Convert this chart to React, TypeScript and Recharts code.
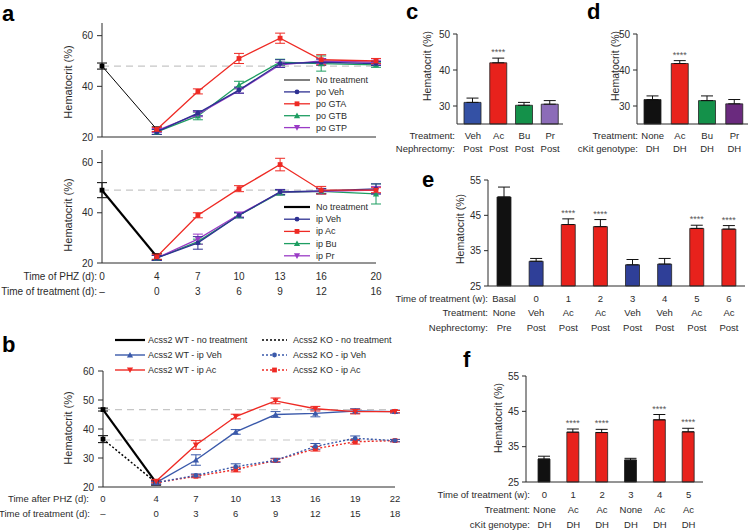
import React from "react";
import {
  LineChart,
  Line,
  BarChart,
  Bar,
  XAxis,
  YAxis,
  ErrorBar,
  ReferenceLine,
  Cell,
} from "recharts";

const FONT = "'Liberation Sans', Arial, Helvetica, sans-serif";
const INK = "#2b2b2b";
const NAVY = "#2e3192";
const RED = "#ee2a24";
const GREEN = "#1e9e62";
const PURPLE = "#9a3bc6";
const BLUE_B = "#3a59aa";
const DASH_GRAY = "#c6c6c6";

// ---- panel a: PHZ time course (po on top, ip below)
const phzDaysA = [0, 4, 7, 10, 13, 16, 20];
const phzLabelsA = ["0", "4", "7", "10", "13", "16", "20"];
const treatDaysA = ["–", "0", "3", "6", "9", "12", "16"];

const poNone = [48, 23, null, null, null, null, null];
const poNoneErr = [1.2, 1, null, null, null, null, null];
const poVeh = [null, 22, 29.4, 38.5, 49, 49.5, 49];
const poVehErr = [null, 1, 1, 1.2, 1.5, 1.2, 0.8];
const poGTA = [null, 23, 38, 51, 59, 50.5, 50];
const poGTAErr = [null, 0.8, 1, 2, 2, 2, 1];
const poGTB = [null, 22, 28.3, 40.5, 49.5, 49, 48.5];
const poGTBErr = [null, 1, 1.5, 1.5, 1.2, 3, 1];
const poGTP = [null, 22.5, 29, 38.3, 48.5, 50, 49.5];
const poGTPErr = [null, 0.8, 1, 1, 1, 1, 0.8];

const ipNone = [49, 22.5, null, null, null, null, null];
const ipNoneErr = [3, 1.2, null, null, null, null, null];
const ipVeh = [null, 22, 28, 39, 48.3, 48.7, 49.5];
const ipVehErr = [null, 1, 2.5, 1, 1, 1, 2];
const ipAc = [null, 22.5, 39, 49.6, 59.2, 49, 49];
const ipAcErr = [null, 1, 1, 1.2, 2.5, 1.5, 1];
const ipBu = [null, 22, 28.5, 39, 48, 48.5, 47.5];
const ipBuErr = [null, 1, 1, 1, 1, 1, 4];
const ipPr = [null, 22, 29.5, 39.3, 48.2, 48.5, 49];
const ipPrErr = [null, 1, 2, 1, 1, 1, 1.5];

// ---- panel b: Acss2 WT vs KO
const phzDaysB = [0, 4, 7, 10, 13, 16, 19, 22];
const phzLabelsB = ["0", "4", "7", "10", "13", "16", "19", "22"];
const treatDaysB = ["–", "0", "3", "6", "9", "12", "15", "18"];
const wtNone = [46.7, 21.5, null, null, null, null, null, null];
const wtNoneErr = [0.5, 0.8, null, null, null, null, null, null];
const koNone = [36.5, 21.5, null, null, null, null, null, null];
const koNoneErr = [1.2, 0.8, null, null, null, null, null, null];
const wtVeh = [null, 21.5, 29.3, 39, 45, 45.4, 46.2, 46];
const wtVehErr = [null, 0.5, 1.8, 0.8, 1, 1.2, 0.8, 0.5];
const wtAc = [null, 22, 34.5, 44.3, 49.7, 47, 46, 46];
const wtAcErr = [null, 0.5, 1.5, 0.8, 1, 0.8, 0.8, 0.4];
const koVeh = [null, 21.5, 24, 27, 29.2, 34, 36.8, 36];
const koVehErr = [null, 0.5, 0.5, 1, 0.7, 1, 0.8, 0.4];
const koAc = [null, 21.5, 23.7, 26, 29.2, 33.2, 35.6, 36];
const koAcErr = [null, 0.5, 0.5, 0.8, 0.5, 0.8, 0.8, 0.4];

// ---- panel c: nephrectomy
const treatC = ["Veh", "Ac", "Bu", "Pr"];
const nephC = ["Post", "Post", "Post", "Post"];
const hctC = [31, 42, 30.2, 30.5];
const errC = [1.2, 1.3, 0.8, 1];
const sigC = ["", "****", "", ""];
const colorC = ["#3451a5", "#e8221c", "#14914a", "#8c6cb8"];

// ---- panel d: cKit DH
const treatD = ["None", "Ac", "Bu", "Pr"];
const genoD = ["DH", "DH", "DH", "DH"];
const hctD = [31.8, 41.8, 31.5, 30.6];
const errD = [1, 0.8, 1.3, 1.2];
const sigD = ["", "****", "", ""];
const colorD = ["#111111", "#e8221c", "#14914a", "#6a2a7e"];

// ---- panel e: weekly, nephrectomy
const weekE = ["Basal", "0", "1", "2", "3", "4", "5", "6"];
const treatE = ["None", "Veh", "Ac", "Ac", "Veh", "Veh", "Ac", "Ac"];
const nephE = ["Pre", "Post", "Post", "Post", "Post", "Post", "Post", "Post"];
const hctE = [50.2, 32, 42.4, 41.8, 31, 31.2, 41.3, 41.1];
const errE = [2.8, 0.8, 1.6, 2, 1.5, 1.6, 0.9, 1];
const sigE = ["", "", "****", "****", "", "", "****", "****"];

// ---- panel f: weekly, cKit DH
const weekF = ["0", "1", "2", "3", "4", "5"];
const treatF = ["None", "Ac", "Ac", "None", "Ac", "Ac"];
const genoF = ["DH", "DH", "DH", "DH", "DH", "DH"];
const hctF = [31.5, 39.1, 39, 31.2, 42.6, 39.2];
const errF = [0.8, 0.9, 0.9, 0.5, 1.5, 1];
const sigF = ["", "****", "****", "", "****", "****"];

const treatColor: Record<string, string> = { None: "#111111", Veh: "#2f3f98", Ac: "#e8221c" };

type Shape = "circle" | "square" | "up" | "down" | null;
type LineSpec = { key: string; label: string; color: string; shape: Shape; width: number; dash?: string };

function buildRows(x: number[], cols: Record<string, (number | null)[]>) {
  return x.map((d, i) => {
    const row: Record<string, number | null> = { day: d };
    for (const k in cols) row[k] = cols[k][i];
    return row;
  });
}

const rowsPo = buildRows(phzDaysA, {
  none: poNone, noneErr: poNoneErr, veh: poVeh, vehErr: poVehErr,
  gta: poGTA, gtaErr: poGTAErr, gtb: poGTB, gtbErr: poGTBErr, gtp: poGTP, gtpErr: poGTPErr,
});
const rowsIp = buildRows(phzDaysA, {
  none: ipNone, noneErr: ipNoneErr, veh: ipVeh, vehErr: ipVehErr,
  ac: ipAc, acErr: ipAcErr, bu: ipBu, buErr: ipBuErr, pr: ipPr, prErr: ipPrErr,
});
const rowsB = buildRows(phzDaysB, {
  wtNone, wtNoneErr, koNone, koNoneErr, wtVeh, wtVehErr, wtAc, wtAcErr, koVeh, koVehErr, koAc, koAcErr,
});

const specsPo: LineSpec[] = [
  { key: "none", label: "No treatment", color: "#000", shape: "square", width: 1 },
  { key: "gtb", label: "po GTB", color: GREEN, shape: "up", width: 1.3 },
  { key: "gtp", label: "po GTP", color: PURPLE, shape: "down", width: 1.3 },
  { key: "veh", label: "po Veh", color: NAVY, shape: "circle", width: 1.3 },
  { key: "gta", label: "po GTA", color: RED, shape: "square", width: 1.3 },
];
const specsIp: LineSpec[] = [
  { key: "none", label: "No treatment", color: "#000", shape: "square", width: 2.2 },
  { key: "bu", label: "ip Bu", color: GREEN, shape: "up", width: 1.3 },
  { key: "pr", label: "ip Pr", color: PURPLE, shape: "down", width: 1.3 },
  { key: "veh", label: "ip Veh", color: NAVY, shape: "circle", width: 1.3 },
  { key: "ac", label: "ip Ac", color: RED, shape: "square", width: 1.3 },
];
const specsB: LineSpec[] = [
  { key: "koNone", label: "Acss2 KO - no treatment", color: "#000", shape: "square", width: 1.5, dash: "2 2" },
  { key: "wtNone", label: "Acss2 WT - no treatment", color: "#000", shape: "square", width: 2.2 },
  { key: "koAc", label: "Acss2 KO - ip Ac", color: RED, shape: "square", width: 1.4, dash: "2 2" },
  { key: "koVeh", label: "Acss2 KO - ip Veh", color: BLUE_B, shape: "circle", width: 1.4, dash: "2 2" },
  { key: "wtVeh", label: "Acss2 WT - ip Veh", color: BLUE_B, shape: "up", width: 1.4 },
  { key: "wtAc", label: "Acss2 WT - ip Ac", color: RED, shape: "down", width: 1.4 },
];

function Marker({ cx, cy, shape, color, s = 2.4 }: any) {
  if (cx == null || cy == null || !shape) return <g />;
  if (shape === "circle") return <circle cx={cx} cy={cy} r={s} fill={color} />;
  if (shape === "square") return <rect x={cx - s} y={cy - s} width={2 * s} height={2 * s} fill={color} />;
  const h = s * 1.3;
  const d =
    shape === "up"
      ? `M${cx},${cy - h}L${cx + h},${cy + h * 0.8}L${cx - h},${cy + h * 0.8}Z`
      : `M${cx},${cy + h}L${cx + h},${cy - h * 0.8}L${cx - h},${cy - h * 0.8}Z`;
  return <path d={d} fill={color} />;
}

function StackTick(props: any) {
  const { x, y, index, rows, offs, size } = props;
  return (
    <g>
      {rows.map((r: string[], k: number) => (
        <text key={k} x={x} y={y + offs[k]} textAnchor="middle" dominantBaseline="central"
          fontSize={size} fill={INK} fontFamily={FONT}>
          {r[index]}
        </text>
      ))}
    </g>
  );
}

function TimePanel({ pos, rows, specs, yDomain, yTicks, xDomain, xTicks, tickRows, tickOffs, tickFont, refs }: any) {
  return (
    <div style={{ position: "absolute", left: pos.left, top: pos.top }}>
      <LineChart width={pos.w} height={pos.h} data={rows}
        margin={{ top: pos.mt, right: pos.mr, left: 0, bottom: pos.mb || 0 }}>
        <XAxis dataKey="day" type="number" domain={xDomain} ticks={xTicks} interval={0}
          height={pos.xh} tickSize={0} tickMargin={0} tickLine={false}
          axisLine={{ stroke: INK }}
          tick={tickRows ? (p: any) => <StackTick {...p} rows={tickRows} offs={tickOffs} size={tickFont} /> : false} />
        <YAxis width={pos.yw} type="number" domain={yDomain} ticks={yTicks} interval={0}
          tickSize={5} tickMargin={4} axisLine={{ stroke: INK }} tickLine={{ stroke: INK }}
          tick={{ fontSize: 10, fill: INK, fontFamily: FONT }} />
        {refs.map((v: number) => (
          <ReferenceLine key={v} y={v} stroke={DASH_GRAY} strokeDasharray="7 5" strokeWidth={1.2} />
        ))}
        {specs.map((s: LineSpec) => (
          <Line key={s.key} type="linear" dataKey={s.key} stroke={s.color} strokeWidth={s.width}
            strokeDasharray={s.dash} isAnimationActive={false} activeDot={false}
            dot={(p: any) => <Marker key={p.index} cx={p.cx} cy={p.cy} shape={s.shape} color={s.color} />}>
            <ErrorBar dataKey={s.key + "Err"} width={5} stroke={s.color} strokeWidth={1}
              direction="y" isAnimationActive={false} />
          </Line>
        ))}
      </LineChart>
    </div>
  );
}

const starLabel = (vals: number[], errs: number[], sig: string[], base: number) => (p: any) => {
  const i = p.index;
  if (i == null || !sig[i]) return null;
  const ppu = Math.abs(p.height) / (vals[i] - base);
  const yy = p.y - errs[i] * ppu - 3;
  return (
    <text key={"s" + i} x={p.x + p.width / 2} y={yy} textAnchor="middle" fontSize={9}
      fill="#555" fontFamily={FONT}>
      {sig[i]}
    </text>
  );
};

function BarPanel({ pos, cats, tickRows, tickOffs, vals, errs, sig, colors, yDomain, yTicks, barSize, padL }: any) {
  const rows = cats.map((c: string, i: number) => ({ name: c, v: vals[i], err: [0, errs[i]] }));
  return (
    <div style={{ position: "absolute", left: pos.left, top: pos.top }}>
      <BarChart width={pos.w} height={pos.h} data={rows}
        margin={{ top: pos.mt, right: pos.mr, left: 0, bottom: 0 }}>
        <XAxis dataKey="name" type="category" interval={0} height={pos.xh} tickSize={0}
          tickMargin={0} tickLine={false} axisLine={{ stroke: INK }} padding={{ left: padL, right: 0 }}
          tick={(p: any) => <StackTick {...p} rows={tickRows} offs={tickOffs} size={9.5} />} />
        <YAxis width={pos.yw} type="number" domain={yDomain} ticks={yTicks} interval={0}
          tickSize={4} tickMargin={3} axisLine={{ stroke: INK }} tickLine={{ stroke: INK }}
          tick={{ fontSize: 10, fill: INK, fontFamily: FONT }} />
        <Bar dataKey="v" barSize={barSize} stroke="#222" strokeWidth={0.8}
          isAnimationActive={false} label={starLabel(vals, errs, sig, yDomain[0])}>
          {rows.map((_: any, i: number) => (
            <Cell key={i} fill={colors[i]} />
          ))}
          <ErrorBar dataKey="err" width={6} stroke="#111" strokeWidth={1} direction="y"
            isAnimationActive={false} />
        </Bar>
      </BarChart>
    </div>
  );
}

function T({ x, y, children, size = 9.5, anchor = "end", weight = "normal", fill = INK }: any) {
  return (
    <text x={x} y={y} textAnchor={anchor} dominantBaseline="central" fontSize={size}
      fontWeight={weight} fill={fill} fontFamily={FONT}>
      {children}
    </text>
  );
}

function YLabel({ x, y, size = 11 }: any) {
  return (
    <text transform={`translate(${x},${y}) rotate(-90)`} textAnchor="middle" dominantBaseline="central"
      fontSize={size} fill={INK} fontFamily={FONT}>
      Hematocrit (%)
    </text>
  );
}

function LegendRow({ x1, x2, tx, y, spec, size = 9 }: any) {
  return (
    <g>
      <line x1={x1} x2={x2} y1={y} y2={y} stroke={spec.color} strokeWidth={spec.width}
        strokeDasharray={spec.dash} />
      <Marker cx={(x1 + x2) / 2} cy={y} shape={spec.key.endsWith("one") ? null : spec.shape} color={spec.color} />
      <T x={tx} y={y} anchor="start" size={size}>{spec.label}</T>
    </g>
  );
}

function Letter({ x, y, children }: any) {
  return (
    <text x={x} y={y} fontSize={22} fontWeight="bold" fill="#000" fontFamily={FONT}>
      {children}
    </text>
  );
}

const legendOrderPo = ["none", "veh", "gta", "gtb", "gtp"];
const legendOrderIp = ["none", "veh", "ac", "bu", "pr"];
const legendColsB = [["wtNone", "wtVeh", "wtAc"], ["koNone", "koVeh", "koAc"]];

export default function App() {
  const pick = (specs: LineSpec[], k: string) => specs.find((s) => s.key === k)!;
  return (
    <div style={{ position: "absolute", left: 0, top: 0, width: 750, height: 531, background: "#fff", fontFamily: FONT }}>
      <TimePanel pos={{ left: 42, top: 19, w: 340, h: 128, mt: 4, mr: 6, mb: 8, yw: 60, xh: 2 }}
        rows={rowsPo} specs={specsPo} yDomain={[20, 65]} yTicks={[20, 40, 60]} xDomain={[0, 20]}
        xTicks={phzDaysA} refs={[48]} />
      <TimePanel pos={{ left: 42, top: 146, w: 340, h: 152, mt: 4, mr: 6, yw: 60, xh: 35 }}
        rows={rowsIp} specs={specsIp} yDomain={[20, 65]} yTicks={[20, 40, 60]} xDomain={[0, 20]}
        xTicks={phzDaysA} tickRows={[phzLabelsA, treatDaysA]} tickOffs={[13, 28]} tickFont={10} refs={[49]} />
      <TimePanel pos={{ left: 43, top: 363, w: 358, h: 159, mt: 8, mr: 6, yw: 60, xh: 35 }}
        rows={rowsB} specs={specsB} yDomain={[20, 60]} yTicks={[20, 30, 40, 50, 60]} xDomain={[0, 22]}
        xTicks={phzDaysB} tickRows={[phzLabelsB, treatDaysB]} tickOffs={[11, 26]} tickFont={9.5} refs={[46.7, 36.2]} />

      <BarPanel pos={{ left: 407, top: 28, w: 160, h: 126, mt: 6, mr: 4, yw: 50, xh: 30 }}
        cats={treatC} tickRows={[treatC, nephC]} tickOffs={[11, 24.3]} vals={hctC} errs={errC} sig={sigC}
        colors={colorC} yDomain={[25, 50]} yTicks={[30, 40, 50]} barSize={17} padL={3} />
      <BarPanel pos={{ left: 587, top: 28, w: 163, h: 126, mt: 6, mr: 2, yw: 50, xh: 30 }}
        cats={treatD} tickRows={[treatD, genoD]} tickOffs={[11, 24.3]} vals={hctD} errs={errD} sig={sigD}
        colors={colorD} yDomain={[25, 50]} yTicks={[30, 40, 50]} barSize={17} padL={2} />
      <BarPanel pos={{ left: 438, top: 174, w: 311, h: 160, mt: 6, mr: 4, yw: 50, xh: 48 }}
        cats={weekE} tickRows={[weekE, treatE, nephE]} tickOffs={[12.5, 26.5, 41.5]} vals={hctE} errs={errE}
        sig={sigE} colors={treatE.map((t) => treatColor[t])} yDomain={[25, 55]} yTicks={[25, 35, 45, 55]}
        barSize={14} padL={0} />
      <BarPanel pos={{ left: 476, top: 370, w: 231, h: 160, mt: 6, mr: 4, yw: 50, xh: 48 }}
        cats={weekF} tickRows={[weekF, treatF, genoF]} tickOffs={[12.6, 27.3, 42.6]} vals={hctF} errs={errF}
        sig={sigF} colors={treatF.map((t) => treatColor[t])} yDomain={[25, 55]} yTicks={[25, 35, 45, 55]}
        barSize={12} padL={4} />

      <svg width={750} height={531} style={{ position: "absolute", left: 0, top: 0, pointerEvents: "none" }}>
        <Letter x={2} y={21}>a</Letter>
        <Letter x={2} y={352}>b</Letter>
        <Letter x={406} y={19}>c</Letter>
        <Letter x={587} y={19}>d</Letter>
        <Letter x={422} y={187}>e</Letter>
        <Letter x={463} y={367}>f</Letter>

        <YLabel x={68} y={82} />
        <YLabel x={68} y={215} />
        <YLabel x={68} y={428} />
        <YLabel x={427} y={66} size={10.5} />
        <YLabel x={615} y={66} size={10.5} />
        <YLabel x={460} y={229} size={10.5} />
        <YLabel x={498} y={418} size={10.5} />

        <T x={97} y={276} size={10}>Time of PHZ (d):</T>
        <T x={97} y={291} size={10}>Time of treatment (d):</T>
        <T x={89} y={498}>Time after PHZ (d):</T>
        <T x={90} y={513}>Time of treatment (d):</T>
        <T x={455} y={135}>Treatment:</T>
        <T x={455} y={148.3}>Nephrectomy:</T>
        <T x={638} y={135}>Treatment:</T>
        <T x={638} y={148.3}>cKit genotype:</T>
        <T x={488} y={298.5}>Time of treatment (w):</T>
        <T x={488} y={312.5}>Treatment:</T>
        <T x={488} y={327.5}>Nephrectomy:</T>
        <T x={530} y={494.3}>Time of treatment (w):</T>
        <T x={530} y={509}>Treatment:</T>
        <T x={530} y={524.3}>cKit genotype:</T>

        {legendOrderPo.map((k, i) => (
          <LegendRow key={k} x1={284} x2={310} tx={316} y={80 + i * 11.9} spec={pick(specsPo, k)} />
        ))}
        {legendOrderIp.map((k, i) => (
          <LegendRow key={k} x1={284} x2={310} tx={316} y={207 + i * 12.2} spec={pick(specsIp, k)} />
        ))}
        {legendColsB[0].map((k, i) => (
          <LegendRow key={k} x1={115} x2={145} tx={148} y={340 + i * 15} spec={pick(specsB, k)} />
        ))}
        {legendColsB[1].map((k, i) => (
          <LegendRow key={k} x1={262} x2={287} tx={293} y={340 + i * 15} spec={pick(specsB, k)} />
        ))}
      </svg>
    </div>
  );
}
